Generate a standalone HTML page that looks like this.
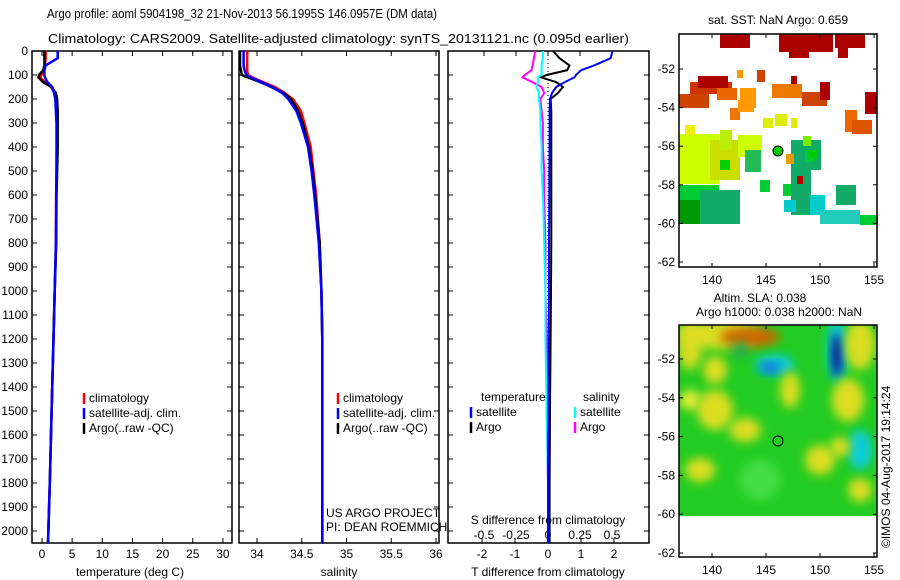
<!DOCTYPE html>
<html><head><meta charset="utf-8"><style>
body{margin:0;background:#fff;width:900px;height:580px;overflow:hidden}
svg{display:block;font-family:"Liberation Sans",sans-serif;font-size:12px}
</style></head><body>
<svg id="fig" width="900" height="580" viewBox="0 0 900 580">
<text x="47" y="18" textLength="390" lengthAdjust="spacingAndGlyphs" font-size="13">Argo profile: aoml 5904198_32 21-Nov-2013 56.1995S 146.0957E (DM data)</text>
<text x="48" y="43" textLength="581" lengthAdjust="spacingAndGlyphs" font-size="13">Climatology: CARS2009. Satellite-adjusted climatology: synTS_20131121.nc (0.095d earlier)</text>
<g id="p1"></g>
<g id="p2"></g>
<g id="p3"></g>
<g id="m1"></g>
<g id="m2"></g>
<text transform="translate(890,548) rotate(-90)" font-size="12">©IMOS 04-Aug-2017 19:14:24</text>
</svg>
<script>
const NS="http://www.w3.org/2000/svg";
const depthTicks=[0,100,200,300,400,500,600,700,800,900,1000,1100,1200,1300,1400,1500,1600,1700,1800,1900,2000];
const depths=[0,30,60,80,100,110,130,150,175,200,250,300,400,500,600,800,1000,1200,1500,1800,2050];
const tClim=[0.6,0.6,0.5,0.3,-0.1,-0.3,0.5,1.5,2.1,2.3,2.4,2.45,2.45,2.4,2.35,2.3,2.1,1.9,1.6,1.3,1.0];
const tSat=[2.6,2.6,0.6,0.4,0.4,0.5,0.9,1.7,2.0,2.2,2.3,2.4,2.4,2.4,2.35,2.3,2.1,1.9,1.6,1.3,1.0];
const tArgo=[0.4,0.4,0.4,0.2,-0.5,-0.6,0.2,1.6,2.3,2.5,2.6,2.6,2.6,2.5,2.4,2.35,2.1,1.9,1.6,1.3,1.0];
const sClim=[33.89,33.89,33.89,33.89,33.9,33.95,34.07,34.2,34.31,34.4,34.49,34.53,34.6,34.63,34.66,34.7,34.72,34.73,34.73,34.73,34.73];
const sSat=[33.85,33.85,33.85,33.86,33.88,33.93,34.05,34.17,34.28,34.35,34.44,34.49,34.57,34.61,34.64,34.69,34.72,34.73,34.73,34.73,34.73];
const sArgo=[33.81,33.81,33.81,33.82,33.83,33.9,34.04,34.16,34.3,34.38,34.46,34.51,34.58,34.62,34.65,34.7,34.72,34.73,34.73,34.73,34.73];
const tDiffSat=[1.95,1.9,1.4,1.0,0.85,0.8,0.5,0.25,0.12,0.06,0.05,0.05,0.05,0.04,0.04,0.03,0.03,0.02,0.01,0.0,0.0];
const tDiffArgo=[0.15,0.35,0.65,0.58,-0.05,-0.2,0.25,0.45,0.3,0.08,0.1,0.1,0.1,0.1,0.1,0.1,0.09,0.08,0.06,0.05,0.05];
const sDiffSat=[-0.04,-0.04,-0.05,-0.05,-0.05,-0.08,-0.08,-0.09,-0.07,-0.07,-0.06,-0.06,-0.05,-0.05,-0.04,-0.03,-0.02,-0.02,-0.01,0.0,0.0];
const sDiffArgo=[-0.1,-0.11,-0.12,-0.13,-0.18,-0.2,-0.12,-0.05,-0.03,-0.06,-0.05,-0.04,-0.04,-0.03,-0.03,-0.02,-0.02,-0.01,-0.01,0.0,0.0];
const tTicks=[0,5,10,15,20,25,30];
const sTicks=[34,34.5,35,35.5,36];
const tdTicks=[-2,-1,0,1,2];
const sdTicks=[-0.5,-0.25,0,0.25,0.5];
const latTicks=[-52,-54,-56,-58,-60,-62];
const lonTicks=[140,145,150,155];

function el(tag,attrs,parent,text){const e=document.createElementNS(NS,tag);for(const k in attrs)e.setAttribute(k,attrs[k]);if(text!==undefined)e.textContent=text;parent.appendChild(e);return e;}
const yD=d=>51+d*0.24;
const xT=t=>42+t*6.03;
const xS=s=>257+(s-34)*89.5;
const xTD=v=>548+v*33;
const xSD=v=>548+v*128;

function frame(g,x0,x1,name){const r=el('rect',{x:x0,y:51,width:x1-x0,height:492,fill:'none',stroke:'#000','stroke-width':1.5},g);}
function line(g,vals,fx,color,name,w){const pts=depths.map((d,i)=>fx(vals[i]).toFixed(1)+','+yD(d).toFixed(1)).join(' ');const p=el('polyline',{points:pts,fill:'none',stroke:color,'stroke-width':w||2.5},g);}

// Panel 1
const p1=document.getElementById('p1');
frame(p1,32,232,'temperature-frame');
depthTicks.forEach(d=>{el('line',{x1:32,x2:37,y1:yD(d),y2:yD(d),stroke:'#000'},p1);el('line',{x1:227,x2:232,y1:yD(d),y2:yD(d),stroke:'#000'},p1);
 const t=el('text',{x:28,y:yD(d)+4,'text-anchor':'end'},p1,String(d));});
tTicks.forEach(v=>{el('line',{x1:xT(v),x2:xT(v),y1:51,y2:56,stroke:'#000'},p1);el('line',{x1:xT(v),x2:xT(v),y1:538,y2:543,stroke:'#000'},p1);
 const t=el('text',{x:xT(v),y:558,'text-anchor':'middle'},p1,String(v));});
line(p1,tClim,xT,'#f00','temperature-climatology-line');
line(p1,tArgo,xT,'#000','temperature-argo-line');
line(p1,tSat,xT,'#00f','temperature-satellite-line');
el('text',{x:130,y:576,'text-anchor':'middle'},p1,'temperature (deg C)');
function legend(g,x,y,items){items.forEach((it,i)=>{el('line',{x1:x,x2:x,y1:y+i*15-9,y2:y+i*15+2,stroke:it[0],'stroke-width':2.5},g);const t=el('text',{x:x+5,y:y+i*15},g,it[1]);});}
legend(p1,84,402,[['#f00','climatology'],['#00f','satellite-adj. clim.'],['#000','Argo(..raw -QC)']]);

// Panel 2
const p2=document.getElementById('p2');
frame(p2,239,439,'salinity-frame');
depthTicks.forEach(d=>{el('line',{x1:239,x2:244,y1:yD(d),y2:yD(d),stroke:'#000'},p2);el('line',{x1:434,x2:439,y1:yD(d),y2:yD(d),stroke:'#000'},p2);});
sTicks.forEach(v=>{el('line',{x1:xS(v),x2:xS(v),y1:51,y2:56,stroke:'#000'},p2);el('line',{x1:xS(v),x2:xS(v),y1:538,y2:543,stroke:'#000'},p2);
 const t=el('text',{x:xS(v),y:558,'text-anchor':'middle'},p2,String(v));});
line(p2,sClim,xS,'#f00','salinity-climatology-line');
line(p2,sArgo,xS,'#000','salinity-argo-line');
line(p2,sSat,xS,'#00f','salinity-satellite-line');
el('text',{x:339,y:576,'text-anchor':'middle'},p2,'salinity');
legend(p2,338,402,[['#f00','climatology'],['#00f','satellite-adj. clim.'],['#000','Argo(..raw -QC)']]);
el('text',{x:326,y:517},p2,'US ARGO PROJECT');
el('text',{x:326,y:531},p2,'PI: DEAN ROEMMICH');

// Panel 3
const p3=document.getElementById('p3');
frame(p3,448,649,'difference-frame');
depthTicks.forEach(d=>{el('line',{x1:448,x2:453,y1:yD(d),y2:yD(d),stroke:'#000'},p3);el('line',{x1:644,x2:649,y1:yD(d),y2:yD(d),stroke:'#000'},p3);});
tdTicks.forEach(v=>{el('line',{x1:xTD(v),x2:xTD(v),y1:538,y2:543,stroke:'#000'},p3);
 const t=el('text',{x:xTD(v),y:558,'text-anchor':'middle'},p3,String(v));});
sdTicks.forEach(v=>{el('line',{x1:xSD(v),x2:xSD(v),y1:51,y2:56,stroke:'#000'},p3);
 const t=el('text',{x:xSD(v),y:539,'text-anchor':'middle'},p3,String(v));});
el('line',{x1:548,x2:548,y1:51,y2:543,stroke:'#000','stroke-dasharray':'1,3'},p3);
line(p3,sDiffArgo,xSD,'#f0f','salinity-diff-argo-line',2);
line(p3,sDiffSat,xSD,'#0ff','salinity-diff-satellite-line',2);
line(p3,tDiffArgo,xTD,'#000','temperature-diff-argo-line',2);
line(p3,tDiffSat,xTD,'#00f','temperature-diff-satellite-line',2);
el('text',{x:481,y:401},p3,'temperature');
el('text',{x:583,y:401},p3,'salinity');
legend(p3,471,416,[['#00f','satellite'],['#000','Argo']]);
legend(p3,575,416,[['#0ff','satellite'],['#f0f','Argo']]);
el('text',{x:548,y:524,'text-anchor':'middle'},p3,'S difference from climatology');
el('text',{x:548,y:576,'text-anchor':'middle'},p3,'T difference from climatology');

// Maps
const xLon=l=>712+(l-140)*10.8;
function mapAxes(g,top,bottom,yLat){
 lonTicks.forEach(l=>{el('line',{x1:xLon(l),x2:xLon(l),y1:bottom-4,y2:bottom,stroke:'#000'},g);el('line',{x1:xLon(l),x2:xLon(l),y1:top,y2:top+4,stroke:'#000'},g);
  el('text',{x:xLon(l),y:bottom+17,'text-anchor':'middle'},g,String(l));});
 latTicks.forEach(l=>{el('line',{x1:679,x2:683,y1:yLat(l),y2:yLat(l),stroke:'#000'},g);el('line',{x1:873,x2:877,y1:yLat(l),y2:yLat(l),stroke:'#000'},g);
  el('text',{x:675,y:yLat(l)+4,'text-anchor':'end'},g,String(l));});
 el('rect',{x:679,y:top,width:198,height:bottom-top,fill:'none',stroke:'#000','stroke-width':1.5},g);
}
const m1=document.getElementById('m1');
const yL1=l=>69+(-52-l)*19.3;
el('text',{x:778,y:24,'text-anchor':'middle'},m1,'sat. SST: NaN Argo: 0.659');
const sstBlocks=[
['#a00',720,34,30,14],['#a00',779,34,54,18],['#a00',789,52,20,6],['#a00',835,34,30,14],['#a00',838,48,10,10],
['#c30',690,82,42,12],['#a00',698,76,30,12],['#c40',679,94,30,14],['#e60',717,88,20,12],['#f90',740,88,16,20],
['#c40',757,70,8,12],['#a00',791,76,6,10],['#e70',772,84,30,14],['#c40',802,92,25,14],['#a00',820,82,10,18],
['#e70',730,108,10,12],['#f90',738,100,16,12],['#e60',845,110,12,22],['#a00',865,92,12,22],['#d50',852,120,20,14],
['#de0',763,118,10,10],['#de0',775,114,12,12],['#de0',791,118,6,10],['#f90',737,70,6,8],
['#cf0',679,134,40,50],['#ee0',685,125,10,10],['#cd0',710,140,30,40],['#be0',720,130,12,20],['#cf0',738,135,24,22],
['#0c3',679,185,40,30],['#090',679,200,28,24],['#1a6',700,190,40,34],['#0c0',720,160,10,10],['#2b5',745,150,16,22],
['#0c3',760,180,10,12],['#0c3',783,184,10,12],['#1a6',791,140,30,30],['#0c3',805,150,10,12],['#1a6',791,165,20,50],
['#b00',797,176,6,8],['#0cc',784,200,12,12],['#0cc',810,195,15,20],['#2cb',820,210,40,14],['#1a6',836,185,20,20],['#0c3',860,215,18,10],
['#7e0',803,136,8,10],['#e90',786,154,8,10],['#0c0',809,150,8,8]];
sstBlocks.forEach(b=>{const r=el('rect',{x:b[1],y:b[2],width:b[3],height:b[4],fill:b[0]},m1);});
el('circle',{cx:778,cy:151,r:5,fill:'#0c0',stroke:'#000'},m1);
mapAxes(m1,34,267,yL1);

const m2=document.getElementById('m2');
const yL2=l=>359+(-52-l)*19.4;
el('text',{x:760,y:302,'text-anchor':'middle'},m2,'Altim. SLA: 0.038');
el('text',{x:779,y:316,'text-anchor':'middle'},m2,'Argo h1000: 0.038 h2000: NaN');
const defs=el('defs',{},m2);const f=el('filter',{id:'bl',x:'-50%',y:'-50%',width:'200%',height:'200%'},defs);el('feGaussianBlur',{stdDeviation:5},f);
const cp=el('clipPath',{id:'cp'},defs);el('rect',{x:679,y:325,width:198,height:191},cp);
const sg=el('g',{'clip-path':'url(#cp)'},m2);
el('rect',{x:679,y:325,width:198,height:191,fill:'#2c2'},sg);
const blobs=[['#dd2',720,335,40,14],['#c60',750,337,30,10],['#dd2',690,345,12,25],['#dd2',715,370,12,14],['#2a5',740,350,8,8],
['#1cd',775,365,20,10],['#16d',770,368,10,5],['#dd2',790,390,10,18],['#1cd',837,350,10,32],['#008',837,355,5,22],
['#dd2',860,345,15,25],['#dd2',848,400,16,22],['#dd2',715,410,18,20],['#ee3',690,400,10,10],['#dd2',745,430,16,12],
['#1cd',860,450,12,20],['#dd2',840,447,10,10],['#dd2',820,460,15,15],['#dd2',700,470,15,12],['#dd2',860,490,12,12],['#4d4',760,480,20,20]];
blobs.forEach(b=>{const e=el('ellipse',{cx:b[1],cy:b[2],rx:b[3],ry:b[4],fill:b[0],filter:'url(#bl)'},sg);});
el('circle',{cx:778,cy:441,r:5,fill:'none',stroke:'#000'},m2);
mapAxes(m2,325,557,yL2);
</script>
</body></html>
